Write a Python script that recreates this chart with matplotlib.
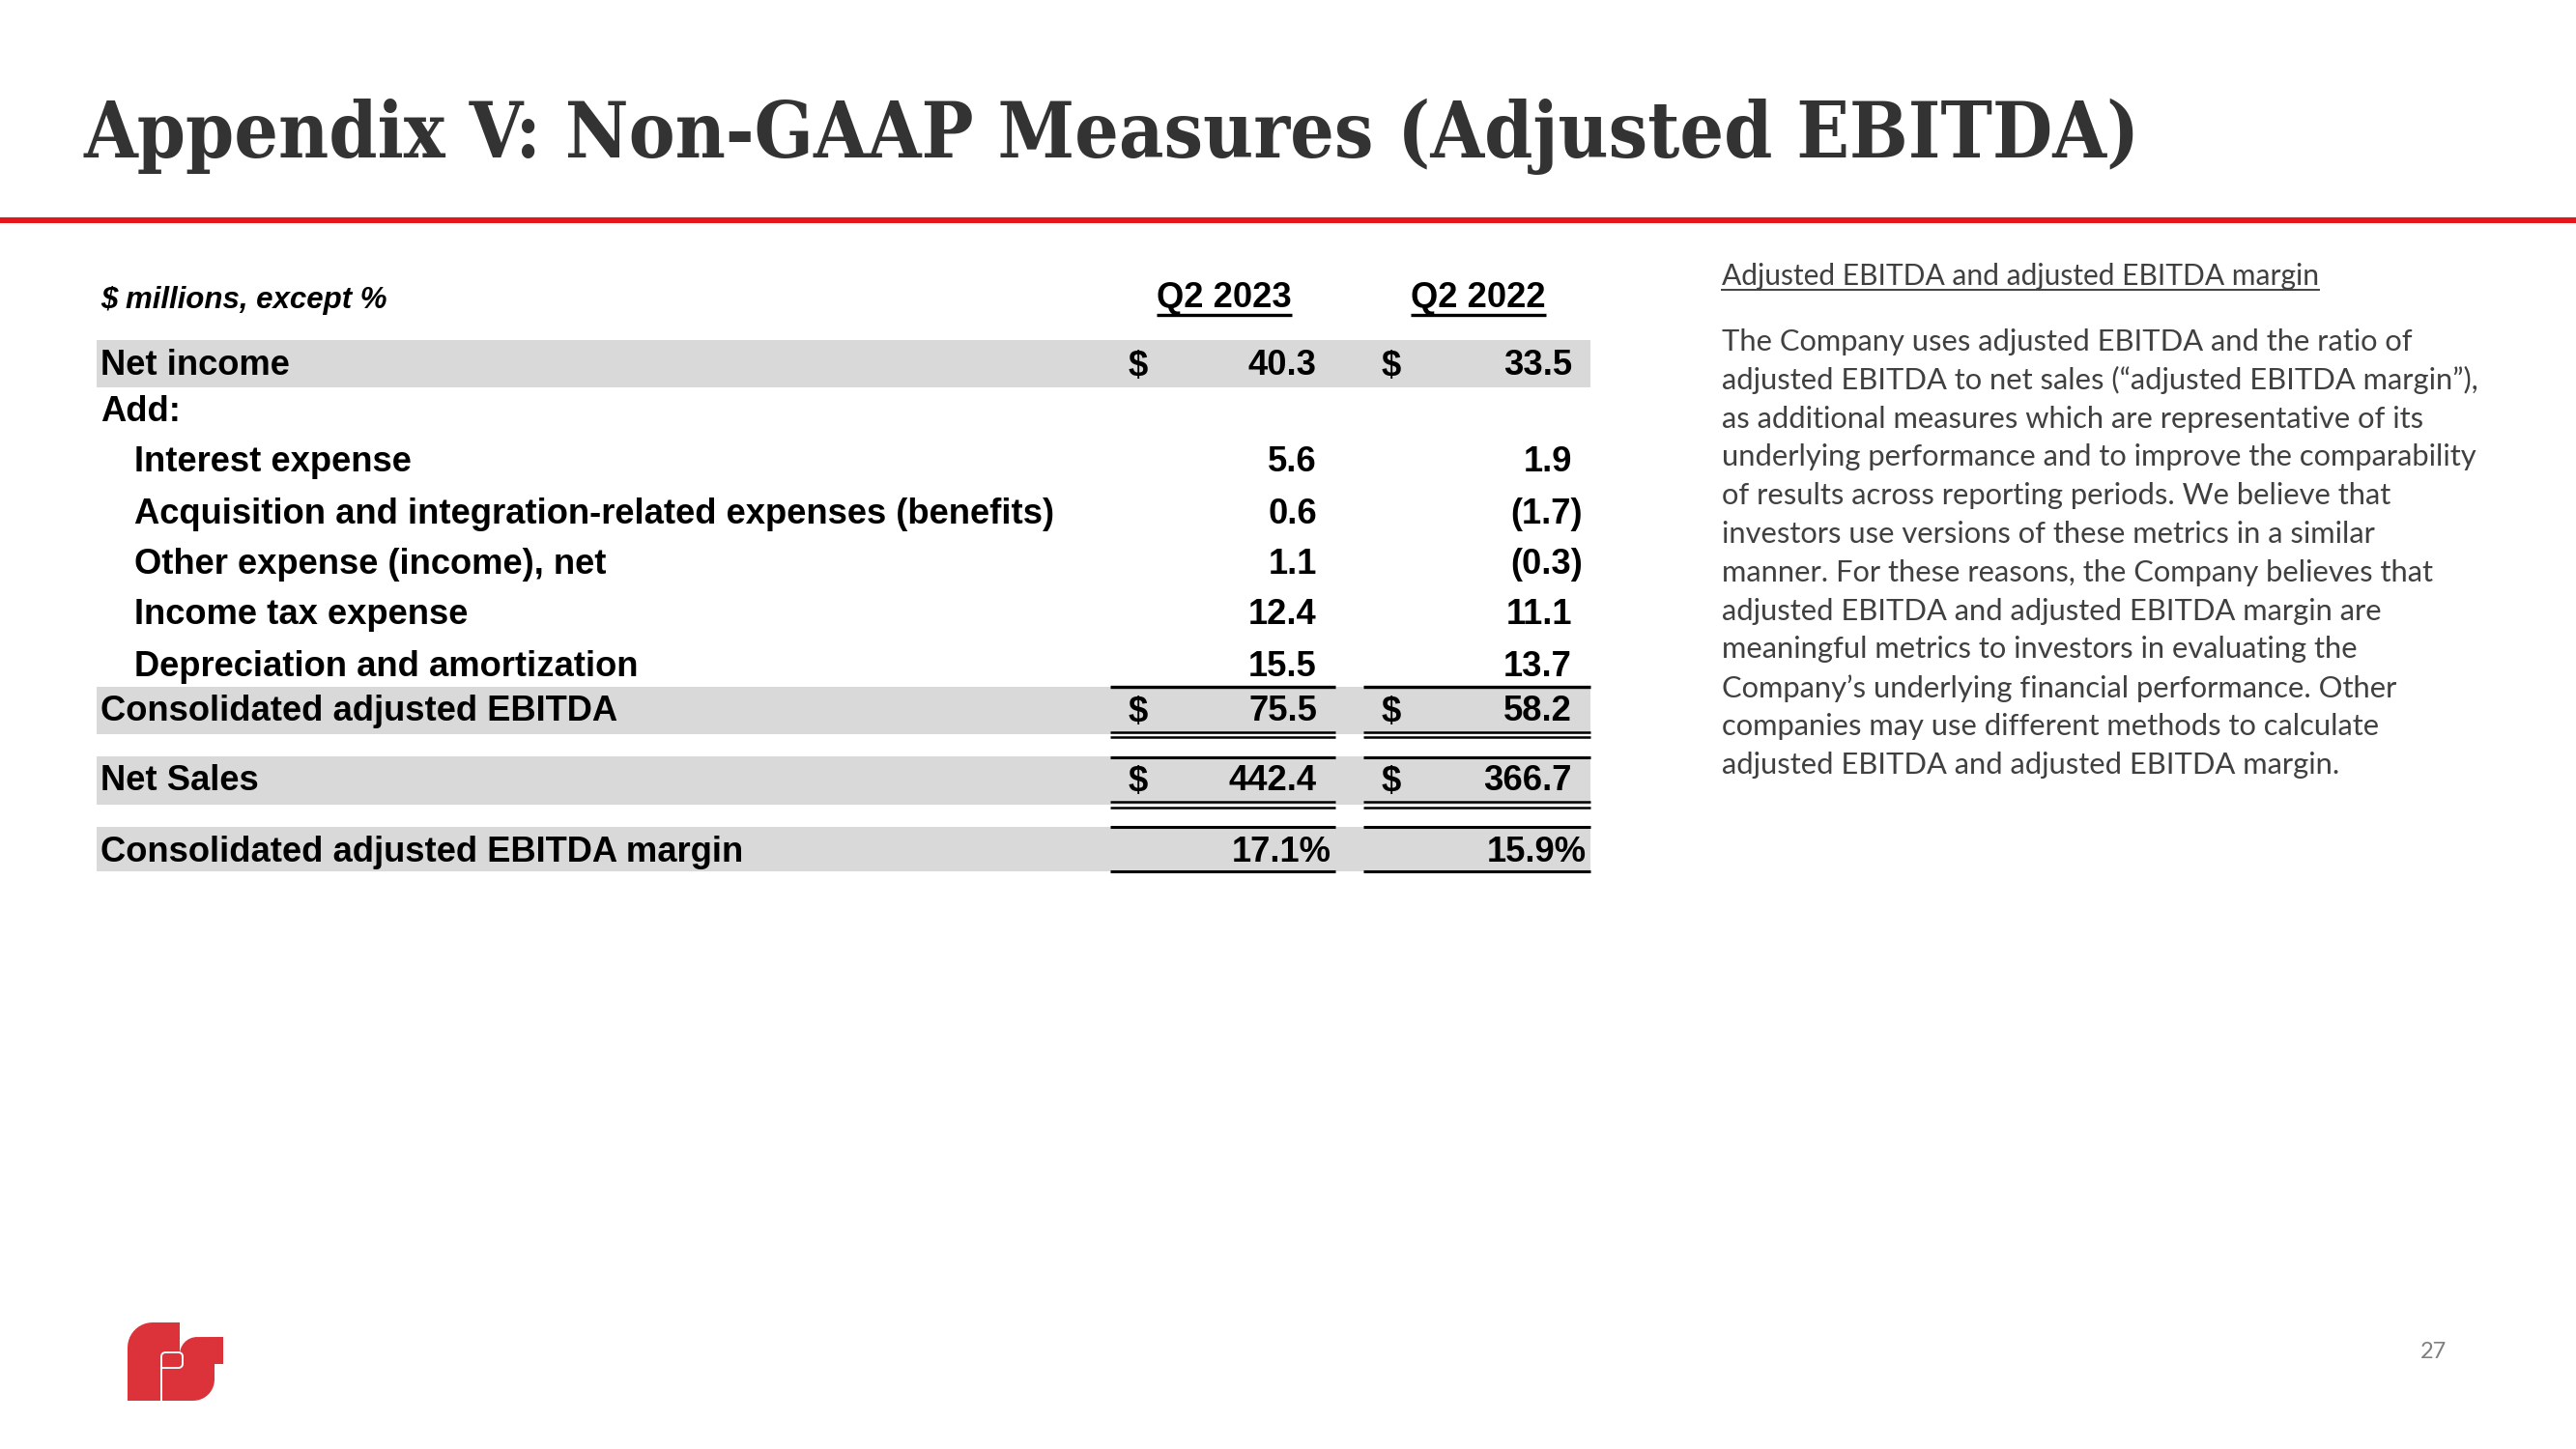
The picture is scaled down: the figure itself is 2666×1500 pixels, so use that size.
import matplotlib
matplotlib.use("Agg")
import numpy as np
import matplotlib.pyplot as plt
from matplotlib.patches import Rectangle, Polygon
from matplotlib.font_manager import FontProperties, findfont

# ----------------------------------------------------------------------
# data
# ----------------------------------------------------------------------
title = "Appendix V: Non-GAAP Measures (Adjusted EBITDA)"
unit_label = "$ millions, except %"
periods = ["Q2 2023", "Q2 2022"]

row_labels = [
    "Net income",
    "Add:",
    "Interest expense",
    "Acquisition and integration-related expenses (benefits)",
    "Other expense (income), net",
    "Income tax expense",
    "Depreciation and amortization",
    "Consolidated adjusted EBITDA",
    "Net Sales",
    "Consolidated adjusted EBITDA margin",
]
q2_2023 = [40.3, None, 5.6, 0.6, 1.1, 12.4, 15.5, 75.5, 442.4, 17.1]
q2_2022 = [33.5, None, 1.9, -1.7, -0.3, 11.1, 13.7, 58.2, 366.7, 15.9]
indented = [False, False, True, True, True, True, True, False, False, False]
dollar_rows = [True, False, False, False, False, False, False, True, True, False]
shaded_rows = [True, False, False, False, False, False, False, True, True, True]
percent_rows = [False] * 9 + [True]

note_title = "Adjusted EBITDA and adjusted EBITDA margin"
note_lines = [
    "The Company uses adjusted EBITDA and the ratio of",
    "adjusted EBITDA to net sales (\u201cadjusted EBITDA margin\u201d),",
    "as additional measures which are representative of its",
    "underlying performance and to improve the comparability",
    "of results across reporting periods. We believe that",
    "investors use versions of these metrics in a similar",
    "manner. For these reasons, the Company believes that",
    "adjusted EBITDA and adjusted EBITDA margin are",
    "meaningful metrics to investors in evaluating the",
    "Company\u2019s underlying financial performance. Other",
    "companies may use different methods to calculate",
    "adjusted EBITDA and adjusted EBITDA margin.",
]
page_number = "27"

# ----------------------------------------------------------------------
# layout (pixels, y downwards)
# ----------------------------------------------------------------------
W, H = 2666, 1500
DPI = 100
row_y = [379, 426, 479, 532, 584, 637, 690, 737, 809, 882]
bands = {0: (352, 401), 7: (711, 760), 8: (783, 833), 9: (856, 902)}
col_segments = [(1149, 1382), (1411, 1646)]
col_right = [1363, 1627]
col_dollar = [1168, 1430]
col_center = [1267, 1530]

TABLE_FONT = "Liberation Sans"
NOTE_FONT = "Lato"
FS = 26.2

# title font: a condensed bold serif if there is one
title_kw = dict(family="DejaVu Serif", weight="bold", stretch="condensed")
if "Condensed" not in findfont(FontProperties(**title_kw)):
    title_kw = dict(family="Liberation Serif", weight="bold")


def fmt(v, pct):
    if v is None:
        return ""
    if pct:
        return f"{v:.1f}%"
    if v < 0:
        return f"({abs(v):.1f})"
    return f"{v:.1f}"


fig = plt.figure(figsize=(W / DPI, H / DPI), dpi=DPI)
ax = fig.add_axes([0, 0, 1, 1])
ax.set_xlim(0, W)
ax.set_ylim(H, 0)
ax.axis("off")
renderer = fig.canvas.get_renderer()


def fit_size(text, target_px, **kw):
    t = ax.text(0, 0, text, fontsize=10, **kw)
    w = t.get_window_extent(renderer).width
    t.remove()
    return 10 * target_px / w


# title + red rule
ts = fit_size(title, 2130, **title_kw)
ax.text(87, 163, title, fontsize=ts, color="#333333", ha="left", va="baseline", **title_kw)
ax.add_patch(Rectangle((0, 225), W, 6, color="#E5161C", lw=0))

# table header
ax.text(104, 311, unit_label, fontsize=22.5, family=TABLE_FONT, weight="bold",
        style="italic", color="black", ha="left", va="center")
for p, cx in zip(periods, col_center):
    t = ax.text(cx, 318, p, fontsize=FS, family=TABLE_FONT, weight="bold",
                color="black", ha="center", va="baseline")
    bb = t.get_window_extent(renderer)
    ax.plot([cx - bb.width / 2, cx + bb.width / 2], [326, 326], color="black",
            lw=2.4, solid_capstyle="butt")

# shaded bands
for i, (y0, y1) in bands.items():
    ax.add_patch(Rectangle((100, y0), 1546, y1 - y0, color="#D9D9D9", lw=0, zorder=0))

# rows
for i, lab in enumerate(row_labels):
    y = row_y[i]
    x = 139 if indented[i] else 104
    ax.text(x, y, lab, fontsize=FS, family=TABLE_FONT, weight="bold",
            color="black", ha="left", va="center")
    for c, vals in enumerate([q2_2023, q2_2022]):
        s = fmt(vals[i], percent_rows[i])
        if not s:
            continue
        xr = col_right[c]
        if percent_rows[i]:
            xr += 15
        elif s.startswith("("):
            xr += 11
        ax.text(xr, y, s, fontsize=FS, family=TABLE_FONT, weight="bold",
                color="black", ha="right", va="center")
        if dollar_rows[i]:
            ax.text(col_dollar[c], y, "$", fontsize=FS, family=TABLE_FONT,
                    weight="bold", color="black", ha="left", va="center")


def hline(y, lw):
    for x0, x1 in col_segments:
        ax.plot([x0, x1], [y, y], color="black", lw=lw, solid_capstyle="butt")


# accounting rules
hline(711, 2.4)
hline(757.5, 1.8)
hline(763, 1.8)
hline(784, 2.2)
hline(830, 1.8)
hline(835.5, 1.8)
hline(856, 2.2)
hline(902, 2.2)

# note on the right
ns = fit_size(note_title, 617, family=NOTE_FONT)
t = ax.text(1782, 286, note_title, fontsize=ns, family=NOTE_FONT, color="#404040",
            ha="left", va="center")
bb = t.get_window_extent(renderer)
ax.plot([1782, 1782 + bb.width], [300, 300], color="#404040", lw=1.4)

bs = fit_size(note_lines[3], 785, family=NOTE_FONT)
for k, line in enumerate(note_lines):
    ax.text(1782, 354 + k * 39.8, line, fontsize=bs, family=NOTE_FONT,
            color="#404040", ha="left", va="center")

# page number
ax.text(2519, 1399, page_number, fontsize=17, family=NOTE_FONT, color="#7F7F7F",
        ha="center", va="center")


# logo (stylised "fs")
def arc(cx, cy, r, a0, a1, n=12):
    a = np.radians(np.linspace(a0, a1, n))
    return list(zip(cx + r * np.cos(a), cy - r * np.sin(a)))


red = "#DC3239"
logo = ([(132, 1450)] + arc(158, 1395, 26, 180, 90) + [(186, 1369), (186, 1400)]
        + arc(204, 1402, 18, 180, 95, 8) + [(231, 1384), (231, 1412), (222, 1412)]
        + arc(200, 1428, 22, 0, -90) + [(132, 1450)])
ax.add_patch(Polygon(logo, closed=True, color=red, lw=0))
bowl = ([(167, 1451)] + arc(171, 1404, 4, 180, 90, 5) + arc(185, 1404, 4, 90, 0, 5)
        + arc(185, 1412, 4, 0, -90, 5) + [(167, 1416)])
xs, ys = zip(*bowl)
ax.plot(xs, ys, color="white", lw=1.4)

fig.savefig("out.png", dpi=DPI, facecolor="white")
